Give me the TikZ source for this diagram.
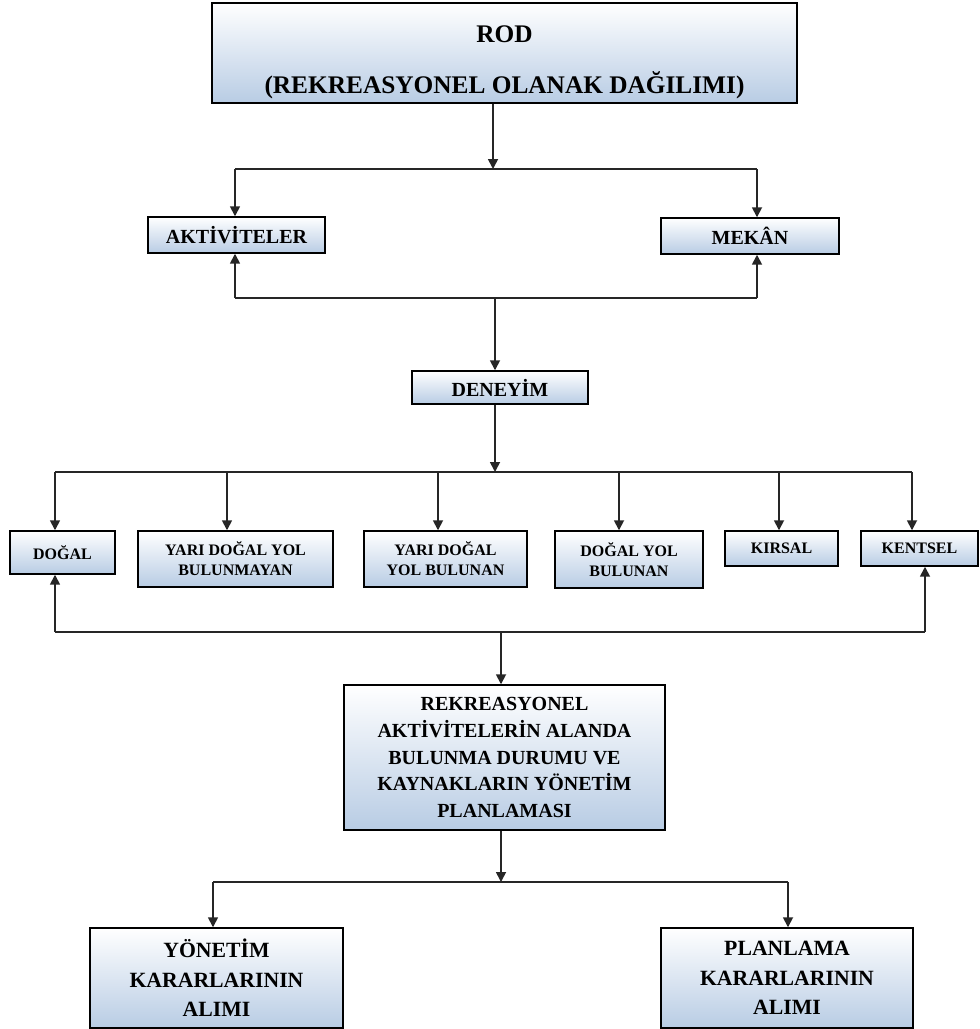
\documentclass[tikz,border=0pt]{standalone}
\usepackage{fontspec}
\setmainfont{Liberation Serif}
\usetikzlibrary{arrows.meta}
\definecolor{boxblue}{RGB}{184,204,228}
\begin{document}
\begin{tikzpicture}[x=0.75pt,y=-0.75pt,
  box/.style={draw=black, line width=1.1pt, top color=white, bottom color=boxblue,
    inner sep=0pt, align=center, text=black},
  sz/.style 2 args={minimum width=#1*0.75pt, minimum height=#2*0.75pt},
  fbig/.style={font=\bfseries\fontsize{19}{38}\selectfont},
  fmid/.style={font=\bfseries\fontsize{15}{20}\selectfont},
  fsmall/.style={font=\bfseries\fontsize{12}{15}\selectfont},
  flarge/.style={font=\bfseries\fontsize{16.3}{22}\selectfont},
  link/.style={draw=black!85, line width=1.3pt},
  arr/.style={link, -{Triangle[length=7.5pt,width=7.5pt]}},
]
\useasboundingbox (0,0) rectangle (980,1029);

% boxes
\node[box, fbig, sz={585}{100}] (rod) at (504.5,53)
  {\rule{0pt}{27pt}ROD\\(REKREASYONEL OLANAK DAĞILIMI)};
\node[box, fmid, sz={177}{36}] (akt) at (236.5,235) {AKTİVİTELER};
\node[box, fmid, sz={178}{36}] (mek) at (750,236) {MEKÂN};
\node[box, fmid, sz={176}{33}] (den) at (500,387.5) {DENEYİM};

\node[box, fsmall, sz={105}{43}] (dogal) at (62.5,552.5) {DOĞAL};
\node[box, fsmall, sz={195}{56}] (ydybm) at (235.5,559) {YARI DOĞAL YOL\\BULUNMAYAN};
\node[box, fsmall, sz={163}{56}] (ydyb) at (445.5,559) {YARI DOĞAL\\YOL BULUNAN};
\node[box, fsmall, sz={148}{57}] (dyb) at (629,559.5) {DOĞAL YOL\\BULUNAN};
\node[box, fsmall, sz={113}{35}] (kirsal) at (781.5,548.5) {KIRSAL};
\node[box, fsmall, sz={117}{35}] (kentsel) at (919.5,548.5) {KENTSEL};

\node[box, fmid, sz={321}{145}] (rek) at (504.5,757.5)
  {REKREASYONEL\\AKTİVİTELERİN ALANDA\\BULUNMA DURUMU VE\\KAYNAKLARIN YÖNETİM\\PLANLAMASI};

\node[box, flarge, sz={253}{100}] (yon) at (216.5,978) {YÖNETİM\\KARARLARININ\\ALIMI};
\node[box, flarge, sz={252}{100}] (plan) at (787,978) {PLANLAMA\\KARARLARININ\\ALIMI};

% bus junctions
\coordinate (b1) at (493,169);
\coordinate (b1l) at (235,169);
\coordinate (b1r) at (757,169);
\coordinate (b2) at (495,298);
\coordinate (b2l) at (235,298);
\coordinate (b2r) at (757,298);
\coordinate (b3) at (495,472);
\coordinate (b3a) at (55,472);
\coordinate (b3b) at (227,472);
\coordinate (b3c) at (438,472);
\coordinate (b3d) at (619,472);
\coordinate (b3e) at (779,472);
\coordinate (b3f) at (912,472);
\coordinate (b4) at (501,632);
\coordinate (b4l) at (55,632);
\coordinate (b4r) at (925,632);
\coordinate (b5) at (501,882);
\coordinate (b5l) at (213,882);
\coordinate (b5r) at (788,882);

% ROD to activities and place
\draw[arr] (rod.south -| b1) -- (b1);
\draw[link] (b1l) -- (b1r);
\draw[arr] (b1l) -- (b1l |- akt.north);
\draw[arr] (b1r) -- (b1r |- mek.north);

% experience feedback
\draw[link] (b2l) -- (b2r);
\draw[arr] (b2l) -- (b2l |- akt.south);
\draw[arr] (b2r) -- (b2r |- mek.south);
\draw[arr] (b2) -- (b2 |- den.north);

% experience to area types
\draw[arr] (den.south -| b3) -- (b3);
\draw[link] (b3a) -- (b3f);
\draw[arr] (b3a) -- (b3a |- dogal.north);
\draw[arr] (b3b) -- (b3b |- ydybm.north);
\draw[arr] (b3c) -- (b3c |- ydyb.north);
\draw[arr] (b3d) -- (b3d |- dyb.north);
\draw[arr] (b3e) -- (b3e |- kirsal.north);
\draw[arr] (b3f) -- (b3f |- kentsel.north);

% area types to management planning
\draw[link] (b4l) -- (b4r);
\draw[arr] (b4l) -- (b4l |- dogal.south);
\draw[arr] (b4r) -- (b4r |- kentsel.south);
\draw[arr] (b4) -- (b4 |- rek.north);

% decisions
\draw[arr] (rek.south -| b5) -- (b5);
\draw[link] (b5l) -- (b5r);
\draw[arr] (b5l) -- (b5l |- yon.north);
\draw[arr] (b5r) -- (b5r |- plan.north);
\end{tikzpicture}
\end{document}
